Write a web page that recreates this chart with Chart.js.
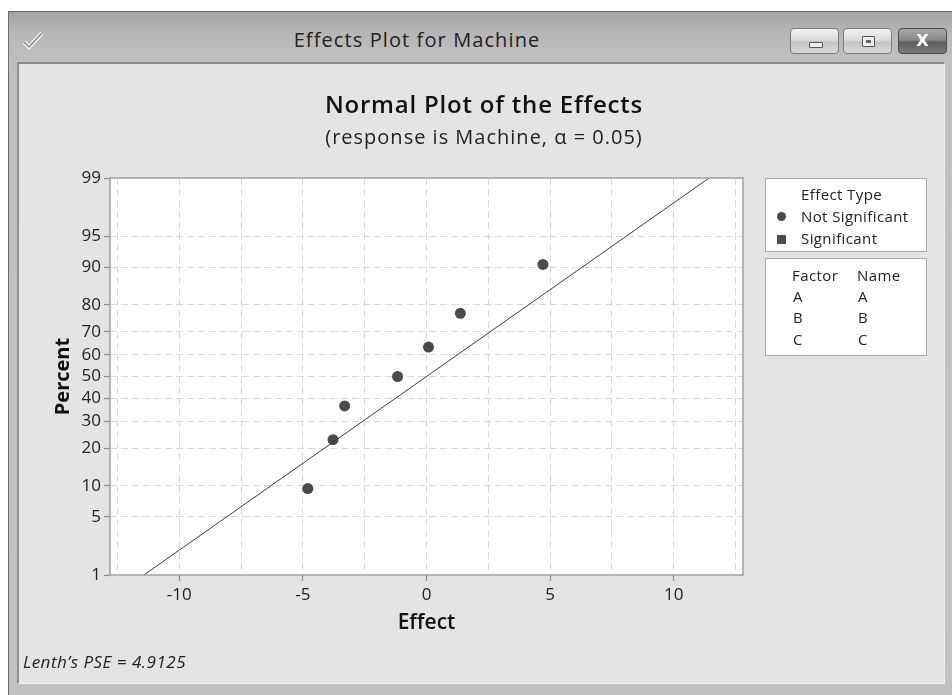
<!DOCTYPE html>
<html>
<head>
<meta charset="utf-8">
<script src="https://cdn.jsdelivr.net/npm/chart.js@4/dist/chart.umd.min.js"></script>
<style>
  body { margin: 0; background: #fff; width: 952px; height: 695px; overflow: hidden; position: relative; font-family: "Open Sans", "Noto Sans", sans-serif; color: #222; }
  #win { position: absolute; left: 8px; top: 11px; width: 944px; height: 684px; box-sizing: border-box;
         border-left: 1px solid #6e6e6e; border-top: 1px solid #6e6e6e;
         background: linear-gradient(#a4a4a4 0px, #b6b6b6 20px, #c0c0c0 50px, #c2c2c2 100%); }
  #panel { position: absolute; left: 17px; top: 62px; width: 928px; height: 622px; box-sizing: border-box;
           background: #e4e4e4; border-top: 2px solid #8c8c8c; border-left: 2px solid #8c8c8c;
           border-right: 1px solid #f0f0f0; border-bottom: 1px solid #f0f0f0; }
  #wtitle { position: absolute; left: 167px; width: 500px; top: 28px; text-align: center; font-size: 20px; letter-spacing: 1.1px; line-height: 24px; color: #222; }
  .btn { position: absolute; top: 28px; width: 49px; height: 26px; box-sizing: border-box; border: 1px solid #7d7d7d; border-radius: 4px;
         background: linear-gradient(#f2f2f2, #dcdcdc 45%, #c4c4c4 55%, #d8d8d8); }
  #bclose { background: linear-gradient(#a8a8a8, #8a8a8a 45%, #5e5e5e 55%, #7a7a7a); border-color: #4a4a4a; color: #fff;
            font: bold 16px "DejaVu Sans", sans-serif; text-align: center; line-height: 24px; }
  canvas { position: absolute; left: 0; top: 0; }
  .t { position: absolute; white-space: nowrap; line-height: 1; }
  .box { position: absolute; left: 765px; width: 162px; box-sizing: border-box; background: #fff; border: 1px solid #a8a8a8; }
</style>
</head>
<body>
<div id="win"></div>
<svg style="position:absolute;left:20px;top:28px" width="28" height="24">
  <polyline points="4,14 9,19 22,5" fill="none" stroke="#f4f4f4" stroke-width="4"/>
  <polyline points="4,14 9,19 22,5" fill="none" stroke="#8a8a8a" stroke-width="1.5"/>
</svg>
<div id="wtitle">Effects Plot for Machine</div>
<div class="btn" style="left:790px"><div style="position:absolute;left:18px;top:13px;width:12px;height:4px;border:1px solid #555;border-radius:1px;background:#eee"></div></div>
<div class="btn" style="left:843px"><div style="position:absolute;left:18px;top:7px;width:11px;height:9px;border:1px solid #555;border-radius:1px;background:#eee"><div style="margin:3px;height:3px;background:#666"></div></div></div>
<div class="btn" id="bclose" style="left:898px">X</div>
<div id="panel"></div>

<canvas id="chart" width="952" height="695"></canvas>

<div class="t" style="left:234px;width:500px;text-align:center;top:92px;font-size:24px;letter-spacing:0.8px;font-weight:600;color:#111">Normal Plot of the Effects</div>
<div class="t" style="left:234px;width:500px;text-align:center;top:127px;font-size:20px;letter-spacing:1px;color:#222">(response is Machine, α = 0.05)</div>

<div class="box" style="top:178px;height:74px"></div>
<div class="box" style="top:258px;height:98px"></div>
<div id="legend"></div>

<div class="t" style="left:23px;top:653px;font-size:17px;letter-spacing:0.5px;font-style:italic;color:#222">Lenth’s PSE = 4.9125</div>

<script>
// effect estimates (x) and their normal plotting percentages (y)
const effects  = [-4.80, -3.78, -3.31, -1.17, 0.08, 1.37, 4.71]
const percents = [9.46, 22.97, 36.49, 50, 63.51, 77.03, 90.54]

// reference line (through 0 at 50%, slope from Lenth's PSE)
const lineEffect  = [-11.43, 11.43]
const linePercent = [1, 99]

const percentTicks = [1, 5, 10, 20, 30, 40, 50, 60, 70, 80, 90, 95, 99]
const effectGrid   = [-12.5, -10, -7.5, -5, -2.5, 0, 2.5, 5, 7.5, 10, 12.5]

const factors = ["A", "B", "C"]
const names   = ["A", "B", "C"]

// inverse standard normal cdf (Acklam)
function invNorm(p) {
  const a = [-39.69683028665376, 220.9460984245205, -275.9285104469687, 138.3577518672690, -30.66479806614716, 2.506628277459239]
  const b = [-54.47609879822406, 161.5858368580409, -155.6989798598866, 66.80131188771972, -13.28068155288572]
  const c = [-0.007784894002430293, -0.3223964580411365, -2.400758277161838, -2.549732539343734, 4.374664141464968, 2.938163982698783]
  const d = [0.007784695709041462, 0.3224671290700398, 2.445134137142996, 3.754408661907416]
  const lo = 0.02425, hi = 1 - lo
  let q, r
  if (p < lo) {
    q = Math.sqrt(-2 * Math.log(p))
    return (((((c[0]*q+c[1])*q+c[2])*q+c[3])*q+c[4])*q+c[5]) / ((((d[0]*q+d[1])*q+d[2])*q+d[3])*q+1)
  }
  if (p <= hi) {
    q = p - 0.5; r = q * q
    return (((((a[0]*r+a[1])*r+a[2])*r+a[3])*r+a[4])*r+a[5])*q / (((((b[0]*r+b[1])*r+b[2])*r+b[3])*r+b[4])*r+1)
  }
  q = Math.sqrt(-2 * Math.log(1 - p))
  return -(((((c[0]*q+c[1])*q+c[2])*q+c[3])*q+c[4])*q+c[5]) / ((((d[0]*q+d[1])*q+d[2])*q+d[3])*q+1)
}
const pz = p => invNorm(p / 100)

// legend boxes
const leg = document.getElementById("legend")
function txt(s, x, y, extra) {
  const el = document.createElement("div")
  el.className = "t"
  el.textContent = s
  el.style.cssText = `left:${x}px;top:${y}px;font-size:15px;letter-spacing:0.4px;color:#222;` + (extra || "")
  leg.appendChild(el)
}
txt("Effect Type", 801, 187)
txt("Not Significant", 801, 208.5)
txt("Significant", 801, 231)
leg.insertAdjacentHTML("beforeend",
  '<div style="position:absolute;left:777px;top:212px;width:9px;height:9px;border-radius:50%;background:#4b4b4b"></div>' +
  '<div style="position:absolute;left:777px;top:235px;width:9px;height:9px;background:#4b4b4b"></div>')
txt("Factor", 792, 268)
txt("Name", 857, 268)
factors.forEach((f, i) => {
  txt(f, 793, 288.5 + i * 21.8)
  txt(names[i], 858, 288.5 + i * 21.8)
})

const font = "'Open Sans', 'Noto Sans', sans-serif"

const plotFrame = {
  id: "plotFrame",
  beforeDraw(chart) {
    const { ctx, chartArea: a } = chart
    ctx.save()
    ctx.fillStyle = "#fff"
    ctx.fillRect(a.left, a.top, a.right - a.left, a.bottom - a.top)
    ctx.restore()
  },
  afterDraw(chart) {
    const { ctx, chartArea: a } = chart
    ctx.save()
    ctx.strokeStyle = "#a0a0a0"
    ctx.lineWidth = 1.5
    ctx.strokeRect(a.left, a.top, a.right - a.left, a.bottom - a.top)
    ctx.restore()
  }
}

new Chart(document.getElementById("chart"), {
  type: "scatter",
  data: {
    datasets: [
      {
        type: "line",
        data: lineEffect.map((x, i) => ({ x, y: pz(linePercent[i]) })),
        borderColor: "#3a3a3a",
        borderWidth: 1,
        pointRadius: 0,
        fill: false
      },
      {
        data: effects.map((x, i) => ({ x, y: pz(percents[i]) })),
        pointRadius: 5.5,
        pointStyle: "circle",
        backgroundColor: "#4b4b4b",
        borderColor: "#4b4b4b",
        borderWidth: 0
      }
    ]
  },
  options: {
    responsive: false,
    animation: false,
    layout: { padding: { left: 51, top: 178, right: 209, bottom: 59 } },
    plugins: { legend: { display: false }, tooltip: { enabled: false } },
    scales: {
      x: {
        type: "linear",
        min: -12.8,
        max: 12.8,
        afterBuildTicks: s => { s.ticks = effectGrid.map(v => ({ value: v })) },
        afterFit: s => { s.height = 61 },
        border: { display: false, dash: [7, 4] },
        grid: {
          color: "#d9d9d9",
          tickLength: 6,
          tickColor: c => (c.tick && c.tick.value % 5 === 0) ? "#8c8c8c" : "rgba(0,0,0,0)",
          tickWidth: 1.2
        },
        ticks: {
          autoSkip: false,
          maxRotation: 0,
          padding: 4,
          color: "#222",
          font: { family: font, size: 17 },
          callback: v => v % 5 === 0 ? String(v) : ""
        },
        title: { display: true, text: "Effect", color: "#111", font: { family: font, size: 21, weight: "600" }, padding: 0 }
      },
      y: {
        type: "linear",
        min: pz(1),
        max: pz(99),
        afterBuildTicks: s => { s.ticks = percentTicks.map(p => ({ value: pz(p) })) },
        afterFit: s => { s.width = 59 },
        border: { display: false, dash: [7, 4] },
        grid: {
          color: c => (c.index === 0 || c.index === percentTicks.length - 1) ? "rgba(0,0,0,0)" : "#d9d9d9",
          tickLength: 6,
          tickColor: "#8c8c8c",
          tickWidth: 1.2
        },
        ticks: {
          autoSkip: false,
          padding: 3,
          color: "#222",
          font: { family: font, size: 17 },
          callback: (v, i) => String(percentTicks[i])
        },
        title: { display: true, text: "Percent", color: "#111", font: { family: font, size: 20, weight: "bold" }, padding: 0 }
      }
    }
  },
  plugins: [plotFrame]
})
</script>
</body>
</html>
